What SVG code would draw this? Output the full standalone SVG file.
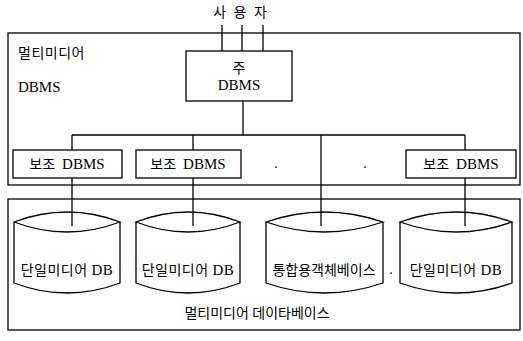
<svg xmlns="http://www.w3.org/2000/svg" width="523" height="341" viewBox="0 0 523 341">
<style>
.ln{stroke:#000;stroke-width:1.3;fill:none}
.bx{stroke:#000;stroke-width:1.3;fill:#fff}
.t{font-family:"Liberation Serif","Noto Sans CJK KR",serif;font-size:14px;fill:#000;white-space:pre}
.l{font-size:15px}
.m{text-anchor:middle}
</style>
<rect width="523" height="341" fill="#fff"/>
<g id="outer-dbms">
<rect class="ln" x="8" y="33" width="512" height="152"/>
<text class="t" x="18" y="58" letter-spacing="0.5">멀티미디어</text>
<text class="t l" x="18" y="92">DBMS</text>
</g>
<g id="outer-db">
<rect class="ln" x="8" y="199" width="512" height="131"/>
<text class="t m" x="257" y="318">멀티미디어 데이타베이스</text>
</g>
<g id="connectors">
<line class="ln" x1="222" y1="25" x2="222" y2="51"/>
<line class="ln" x1="242" y1="25" x2="242" y2="51"/>
<line class="ln" x1="263" y1="25" x2="263" y2="51"/>
<line class="ln" x1="243" y1="101" x2="243" y2="135"/>
<line class="ln" x1="72" y1="135" x2="465" y2="135"/>
<line class="ln" x1="72" y1="135" x2="72" y2="150"/>
<line class="ln" x1="193" y1="135" x2="193" y2="150"/>
<line class="ln" x1="465" y1="135" x2="465" y2="150"/>
<line class="ln" x1="72" y1="178" x2="72" y2="226"/>
<line class="ln" x1="193" y1="178" x2="193" y2="226"/>
<line class="ln" x1="465" y1="178" x2="465" y2="226"/>
<line class="ln" x1="321" y1="135" x2="321" y2="226"/>
</g>
<g id="user">
<text class="t m" x="241" y="17" letter-spacing="2">사 용 자</text>
</g>
<g id="main-dbms">
<rect class="bx" x="186" y="51" width="106" height="50"/>
<text class="t m" x="239" y="73">주</text>
<text class="t l m" x="239" y="90">DBMS</text>
</g>
<g id="sub1">
<rect class="bx" x="13" y="150" width="109" height="28"/>
<text class="t m" x="67" y="169">보조  <tspan class="l">DBMS</tspan></text>
</g>
<g id="sub2">
<rect class="bx" x="136" y="150" width="105" height="28"/>
<text class="t m" x="188" y="169">보조  <tspan class="l">DBMS</tspan></text>
</g>
<text class="t m" x="276" y="168">.</text>
<text class="t m" x="365" y="168">.</text>
<g id="sub3">
<rect class="bx" x="406" y="150" width="110" height="28"/>
<text class="t m" x="461" y="169">보조  <tspan class="l">DBMS</tspan></text>
</g>
<g id="db1">
<path class="ln" d="M14,222 Q67,202 120,222 Q67,242 14,222 Z M14,222 V283 Q67,303 120,283 V222"/>
<text class="t m" x="67" y="275" letter-spacing="0.5">단일미디어 <tspan class="l">DB</tspan></text>
</g>
<g id="db2">
<path class="ln" d="M136,222 Q188,202 240,222 Q188,242 136,222 Z M136,222 V283 Q188,303 240,283 V222"/>
<text class="t m" x="188" y="275" letter-spacing="0.5">단일미디어 <tspan class="l">DB</tspan></text>
</g>
<g id="db3">
<path class="ln" d="M266,222 Q324,202 383,222 Q324,242 266,222 Z M266,222 V283 Q324,303 383,283 V222"/>
<text class="t m" x="324" y="275">통합용객체베이스</text>
</g>
<text class="t m" x="391" y="274">.</text>
<g id="db4">
<path class="ln" d="M400,222 Q456,202 512,222 Q456,242 400,222 Z M400,222 V283 Q456,303 512,283 V222"/>
<text class="t m" x="456" y="275" letter-spacing="0.5">단일미디어 <tspan class="l">DB</tspan></text>
</g>
</svg>
